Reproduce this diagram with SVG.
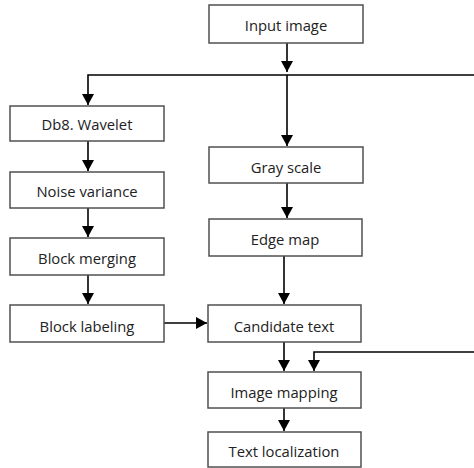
<svg xmlns="http://www.w3.org/2000/svg" width="474" height="468" viewBox="0 0 474 468">
  <style>
    .box { fill: #ffffff; stroke: #505050; stroke-width: 1.5; }
    .label { font-family: "Open Sans", "Liberation Sans", sans-serif; font-size: 14.8px; fill: #222222; text-anchor: middle; dominant-baseline: central; }
    .wire { fill: none; stroke: #000000; stroke-width: 1.6; }
  </style>
  <defs>
    <marker id="arrow" viewBox="0 0 11 12" refX="11" refY="6" markerWidth="11" markerHeight="12" markerUnits="userSpaceOnUse" orient="auto">
      <path d="M0,0 L11,6 L0,12 Z" fill="#000000"/>
    </marker>
  </defs>

  <rect width="474" height="468" fill="#ffffff"/>

  <!-- connectors -->
  <g id="connectors">
    <path class="wire" d="M287,43 V72" marker-end="url(#arrow)"/>
    <path class="wire" d="M474,75 H88 V105" marker-end="url(#arrow)"/>
    <path class="wire" d="M287,75 V146" marker-end="url(#arrow)"/>
    <path class="wire" d="M88,141 V171" marker-end="url(#arrow)"/>
    <path class="wire" d="M88,208 V237" marker-end="url(#arrow)"/>
    <path class="wire" d="M88,275 V304" marker-end="url(#arrow)"/>
    <path class="wire" d="M287,183 V218" marker-end="url(#arrow)"/>
    <path class="wire" d="M284,256 V304" marker-end="url(#arrow)"/>
    <path class="wire" d="M164,323 H207" marker-end="url(#arrow)"/>
    <path class="wire" d="M284,342 V371" marker-end="url(#arrow)"/>
    <path class="wire" d="M474,352 H314 V371" marker-end="url(#arrow)"/>
    <path class="wire" d="M284,408 V431" marker-end="url(#arrow)"/>
  </g>

  <g id="input-image">
    <rect class="box" x="209" y="5" width="154" height="38"/>
    <text class="label" x="286" y="25">Input image</text>
  </g>
  <g id="db8-wavelet">
    <rect class="box" x="10" y="106" width="154" height="35"/>
    <text class="label" x="87" y="124">Db8. Wavelet</text>
  </g>
  <g id="noise-variance">
    <rect class="box" x="10" y="172" width="154" height="36"/>
    <text class="label" x="87" y="191">Noise variance</text>
  </g>
  <g id="block-merging">
    <rect class="box" x="10" y="238" width="154" height="37"/>
    <text class="label" x="87" y="258">Block merging</text>
  </g>
  <g id="block-labeling">
    <rect class="box" x="10" y="305" width="154" height="37"/>
    <text class="label" x="87" y="326">Block labeling</text>
  </g>
  <g id="gray-scale">
    <rect class="box" x="209" y="147" width="154" height="36"/>
    <text class="label" x="286" y="167">Gray scale</text>
  </g>
  <g id="edge-map">
    <rect class="box" x="209" y="219" width="153" height="37"/>
    <text class="label" x="285" y="239">Edge map</text>
  </g>
  <g id="candidate-text">
    <rect class="box" x="208" y="305" width="153" height="37"/>
    <text class="label" x="284" y="326">Candidate text</text>
  </g>
  <g id="image-mapping">
    <rect class="box" x="208" y="372" width="153" height="36"/>
    <text class="label" x="284" y="392">Image mapping</text>
  </g>
  <g id="text-localization">
    <rect class="box" x="208" y="432" width="153" height="35"/>
    <text class="label" x="284" y="451">Text localization</text>
  </g>
</svg>
